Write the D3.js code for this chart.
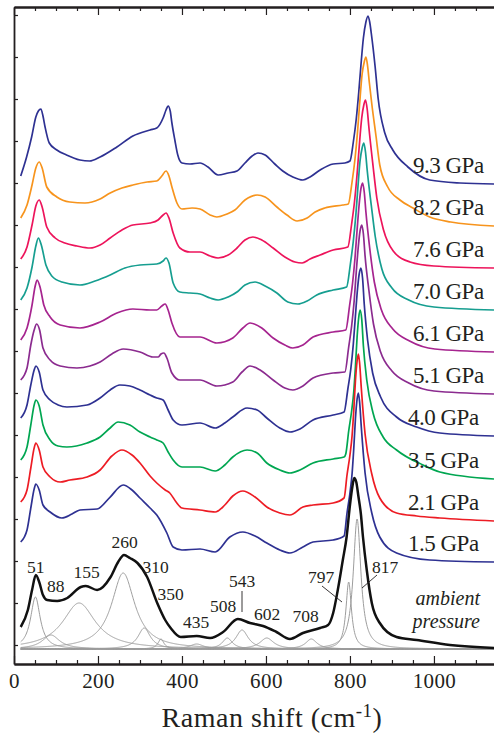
<!DOCTYPE html>
<html><head><meta charset="utf-8">
<script src="https://cdn.jsdelivr.net/npm/d3@7"></script>
<style>html,body{margin:0;padding:0;background:#fff;} svg{display:block;}</style>
</head><body>
<script>
// ---------------- DATA ----------------
const pressureLabels = ["9.3 GPa","8.2 GPa","7.6 GPa","7.0 GPa","6.1 GPa","5.1 GPa","4.0 GPa","3.5 GPa","2.1 GPa","1.5 GPa"];

// [Raman shift (cm-1), intensity (arb., stacked)]
const s93 = [[16,488],[30,507],[42,527],[52,547],[58,553],[64,555],[69,548],[74,537],[84,521],[102,514],[125,509],[157,504],[180,503],[205,507],[245,517],[283,528],[324,534],[340,536],[355,546],[362,554],[367,558],[372,553],[376,541],[383,524],[390,509],[400,501],[419,500],[443,501],[462,497],[486,489],[510,491],[531,493],[550,501],[567,508],[581,511],[598,509],[621,500],[640,493],[664,487],[688,484],[705,487],[729,494],[760,500],[788,501],[800,503],[808,522],[815,545],[821,572],[826,598],[832,626],[838,642],[843,648],[847,642],[851,630],[860,597],[867,566],[883,531],[902,514],[938,497],[990,484],[1062,481],[1143,480]];
const s82 = [[16,446],[31,459],[43,479],[52,496],[60,502],[67,496],[78,477],[102,467],[133,462],[169,461],[205,465],[229,471],[257,476],[283,479],[317,482],[340,483],[352,488],[362,493],[369,488],[376,477],[388,461],[400,455],[424,456],[443,455],[467,449],[483,447],[507,450],[526,454],[550,464],[579,469],[598,467],[626,457],[650,449],[674,443],[698,446],[717,452],[740,456],[783,459],[796,460],[805,482],[812,505],[818,532],[823,560],[829,590],[834,602],[838,607],[842,598],[846,582],[852,560],[862,528],[871,499],[890,477],[919,464],[950,456],[990,447],[1040,442],[1143,438]];
const s76 = [[16,405],[31,417],[43,439],[52,458],[60,464],[67,457],[78,437],[98,426],[121,421],[150,418],[181,416],[205,419],[229,426],[257,434],[283,439],[324,441],[343,444],[355,449],[362,451],[369,446],[379,431],[395,416],[419,412],[443,412],[467,408],[486,406],[510,409],[531,416],[550,424],[569,427],[590,424],[617,416],[645,407],[669,402],[686,401],[705,405],[729,409],[760,414],[795,417],[804,440],[811,463],[817,490],[822,517],[828,546],[833,559],[837,564],[841,555],[845,537],[855,498],[864,466],[880,434],[903,413],[943,402],[1000,398],[1143,396]];
const s70 = [[16,364],[31,376],[43,397],[52,418],[58,426],[65,419],[76,399],[90,388],[114,382],[157,379],[193,383],[229,389],[264,396],[300,399],[340,400],[355,403],[362,406],[369,401],[379,381],[395,372],[419,371],[443,370],[467,366],[486,364],[510,367],[531,372],[550,379],[574,382],[598,378],[626,371],[652,362],[676,360],[698,363],[721,369],[760,374],[792,377],[801,400],[808,423],[814,449],[819,477],[824,503],[829,516],[833,521],[837,512],[841,494],[851,458],[860,428],[876,395],[900,376],[940,364],[1000,357],[1143,354]];
const s61 = [[16,324],[31,336],[43,359],[50,377],[55,384],[62,377],[71,359],[86,347],[110,339],[157,336],[205,342],[245,351],[283,355],[324,354],[340,354],[352,358],[360,360],[367,354],[376,341],[395,327],[443,327],[483,321],[521,326],[545,336],[562,341],[590,336],[617,326],[645,319],[664,316],[688,319],[712,327],[760,332],[790,334],[799,358],[806,380],[812,406],[817,434],[822,460],[826,475],[830,481],[834,472],[838,452],[847,416],[858,382],[875,354],[902,335],[942,323],[1002,315],[1143,312]];
const s51 = [[16,284],[31,296],[40,319],[48,334],[54,340],[61,334],[69,316],[86,304],[110,298],[150,296],[181,298],[205,302],[233,310],[260,315],[300,312],[331,307],[343,307],[350,310],[357,311],[364,306],[376,291],[395,284],[443,284],[483,278],[521,282],[543,292],[562,298],[586,294],[617,284],[645,276],[664,274],[688,278],[712,286],[760,291],[788,292],[797,317],[804,338],[810,363],[815,392],[820,418],[824,433],[828,439],[832,430],[836,408],[845,374],[856,340],[873,312],[900,293],[940,281],[1000,273],[1143,270]];
const s40 = [[16,246],[31,259],[40,279],[48,294],[52,298],[60,292],[69,274],[86,264],[105,259],[126,257],[174,259],[205,266],[229,274],[252,279],[276,278],[300,274],[324,269],[340,266],[355,264],[367,254],[379,244],[400,239],[443,241],[479,236],[502,241],[521,247],[555,256],[579,254],[602,246],[633,236],[657,232],[681,235],[712,244],[760,249],[786,252],[795,275],[802,295],[808,320],[813,348],[818,375],[822,390],[826,396],[830,386],[834,360],[842,324],[854,291],[873,267],[911,247],[959,237],[1014,231],[1143,228]];
const s35 = [[16,204],[31,217],[40,239],[48,259],[52,264],[60,258],[69,239],[86,224],[105,218],[126,217],[174,221],[205,227],[229,236],[248,242],[276,239],[300,232],[324,227],[340,224],[355,221],[367,212],[379,204],[400,197],[443,197],[479,193],[502,199],[521,207],[555,214],[579,211],[602,201],[633,194],[657,191],[681,194],[712,201],[760,205],[786,207],[790,210],[797,233],[804,253],[809,272],[813,297],[817,327],[821,347],[824,354],[828,345],[832,318],[840,284],[855,251],[879,227],[911,214],[974,199],[1014,192],[1143,185]];
const s21 = [[16,162],[31,174],[40,196],[48,216],[52,221],[60,214],[69,197],[86,187],[110,182],[133,184],[174,187],[205,194],[233,208],[257,214],[281,209],[300,201],[324,188],[340,181],[360,174],[371,171],[386,162],[400,156],[443,154],[479,152],[502,159],[521,168],[545,173],[574,167],[602,157],[633,151],[657,149],[688,157],[712,159],[760,161],[786,166],[793,189],[800,209],[805,228],[809,253],[813,283],[817,303],[820,310],[823,301],[827,276],[836,230],[852,190],[871,166],[911,151],[959,148],[1014,146],[1143,143]];
const s15 = [[16,122],[31,134],[40,156],[48,175],[52,180],[60,174],[69,159],[86,152],[114,146],[138,150],[157,154],[198,155],[229,167],[260,179],[281,174],[300,166],[324,156],[340,149],[364,131],[379,117],[400,114],[443,115],[479,112],[514,127],[545,132],[574,128],[602,121],[633,114],[657,111],[688,117],[712,122],[760,124],[786,128],[793,151],[800,171],[805,190],[809,215],[813,245],[817,265],[820,271],[823,262],[827,237],[836,191],[852,151],[871,127],[911,111],[990,104],[1143,102]];
const ambient = [[16,37],[33,54],[43,74],[52,89],[60,82],[69,69],[79,64],[103,63],[127,66],[159,77],[171,78],[198,74],[230,87],[248,102],[262,109],[276,106],[294,101],[317,87],[341,61],[360,44],[373,36],[397,27],[435,28],[467,26],[498,32],[533,45],[562,41],[593,38],[625,32],[657,25],[688,31],[729,36],[748,39],[760,51],[771,74],[783,104],[792,127],[800,159],[806,178],[810,186],[815,182],[820,168],[826,150],[831,127],[840,94],[852,61],[871,41],[911,27],[959,24],[1038,19],[1143,16]];

// fitted Lorentzian components of the ambient-pressure spectrum
const peakCenters = [51, 88, 155, 260, 310, 350, 435, 508, 543, 602, 708, 797, 817];
const peakHeights = [52, 14, 46, 76, 21, 10, 5, 11, 19, 11, 10, 67, 130];
const peakWidths  = [28, 50, 95, 67, 36, 17, 40, 29, 36, 40, 33, 16, 22];
const componentBaseline = 15;

const xTickLabels = [0, 200, 400, 600, 800, 1000];
const xMinorTicks = [50,100,150,250,300,350,450,500,550,650,700,750,850,900,950,1050,1100];

// ---------------- STYLE / LAYOUT ----------------
const W = 494, H = 734;
const colors = ["#2e3192","#f7941d","#ed145b","#169e90","#a6248f","#8b2b8f","#2e3192","#00a651","#ed1c24","#2e3192"];
const spectra = [s93, s82, s76, s70, s61, s51, s40, s35, s21, s15];
// label layout: [center x px, baseline y px] for peak labels
const peakLabelPos = [[35.7,573],[55.7,592],[86.5,578],[124.5,548],[155.7,573],[170.5,600],[196,628],[223,612],[242,587],[267,620],[305.5,622],[321,583],[385,573]];

const serif = "'Liberation Serif','Times New Roman',Times,serif";

const x = d3.scaleLinear().domain([0, 1143]).range([14, 494]);
const y = d3.scaleLinear().domain([0, 657]).range([664, 7]);

const svg = d3.select("body").append("svg").attr("width", W).attr("height", H);

svg.append("defs").append("clipPath").attr("id","clip")
  .append("rect").attr("x",14).attr("y",7).attr("width",480).attr("height",657);

const line = d3.line().x(d => x(d[0])).y(d => y(d[1])).curve(d3.curveMonotoneX);

const plot = svg.append("g").attr("clip-path","url(#clip)");

// components
const xs = d3.range(16, 1144, 1);
peakCenters.forEach((c, i) => {
  const hw = peakWidths[i] / 2;
  const pts = xs.map(v => [v, componentBaseline + peakHeights[i] / (1 + ((v - c) / hw) ** 2)]);
  plot.append("path").attr("d", line(pts)).attr("fill","none")
    .attr("stroke","#9d9d9d").attr("stroke-width",1);
});

// spectra
spectra.forEach((s, i) => {
  plot.append("path").attr("d", line(s)).attr("fill","none")
    .attr("stroke", colors[i]).attr("stroke-width",1.7).attr("stroke-linejoin","round");
});
plot.append("path").attr("d", line(ambient)).attr("fill","none")
  .attr("stroke","#111").attr("stroke-width",2.5).attr("stroke-linejoin","round");

// axes
const axisColor = "#231f20";
const bottom = svg.append("g").attr("transform","translate(0,664)")
  .call(d3.axisBottom(x).tickValues(xTickLabels).tickSize(-8).tickSizeOuter(0).tickPadding(9).tickFormat(d3.format("d")));
svg.append("g").attr("transform","translate(0,664)")
  .call(d3.axisBottom(x).tickValues(xMinorTicks).tickSize(-4).tickSizeOuter(0).tickFormat(""));
svg.append("g").attr("transform","translate(0,7)")
  .call(d3.axisTop(x).tickValues(xTickLabels).tickSize(-8).tickSizeOuter(0).tickFormat(""));
svg.append("g").attr("transform","translate(0,7)")
  .call(d3.axisTop(x).tickValues(xMinorTicks).tickSize(-4).tickSizeOuter(0).tickFormat(""));
svg.append("g").attr("transform","translate(14,0)")
  .call(d3.axisLeft(y).tickValues(d3.range(19, 650, 42)).tickSize(-4).tickSizeOuter(0).tickFormat(""));

svg.selectAll(".domain").attr("stroke", axisColor).attr("stroke-width", 1.8);
svg.selectAll(".tick line").attr("stroke", axisColor).attr("stroke-width", 1.2);
bottom.selectAll(".tick text").attr("font-family", serif).attr("font-size", 21)
  .attr("fill", "#231f20").attr("letter-spacing", "0.4px");

// axis title
const title = svg.append("text").attr("x", 272).attr("y", 727).attr("text-anchor","middle")
  .attr("font-family", serif).attr("font-size", 28).attr("fill","#231f20").attr("letter-spacing","0.5px");
title.append("tspan").text("Raman shift (cm");
title.append("tspan").attr("font-size", 19).attr("dy", -10).text("-1");
title.append("tspan").attr("dy", 10).text(")");

// pressure labels
spectra.forEach((s, i) => {
  const tail = s[s.length - 1][1];
  svg.append("text").attr("x", i < 6 ? 413 : 408).attr("y", y(tail) - 11)
    .attr("font-family", serif).attr("font-size", 23).attr("letter-spacing","-0.5px")
    .attr("fill","#231f20").text(pressureLabels[i]);
});

// ambient label (two lines)
svg.append("text").attr("x", 480).attr("y", 605).attr("text-anchor","end")
  .attr("font-family", serif).attr("font-style","italic").attr("font-size", 20).attr("fill","#231f20").text("ambient");
svg.append("text").attr("x", 480).attr("y", 628).attr("text-anchor","end")
  .attr("font-family", serif).attr("font-style","italic").attr("font-size", 20).attr("fill","#231f20").text("pressure");

// peak labels
peakCenters.forEach((c, i) => {
  svg.append("text").attr("x", peakLabelPos[i][0]).attr("y", peakLabelPos[i][1]).attr("text-anchor","middle")
    .attr("font-family", serif).attr("font-size", 17.5).attr("fill","#231f20").text(String(c));
});
// leader lines
const leaders = [[242,591,242,612],[322,586,342,602],[377,575,362,588]];
leaders.forEach(l => svg.append("line").attr("x1",l[0]).attr("y1",l[1]).attr("x2",l[2]).attr("y2",l[3])
  .attr("stroke","#231f20").attr("stroke-width",0.9));
</script>
</body></html>
